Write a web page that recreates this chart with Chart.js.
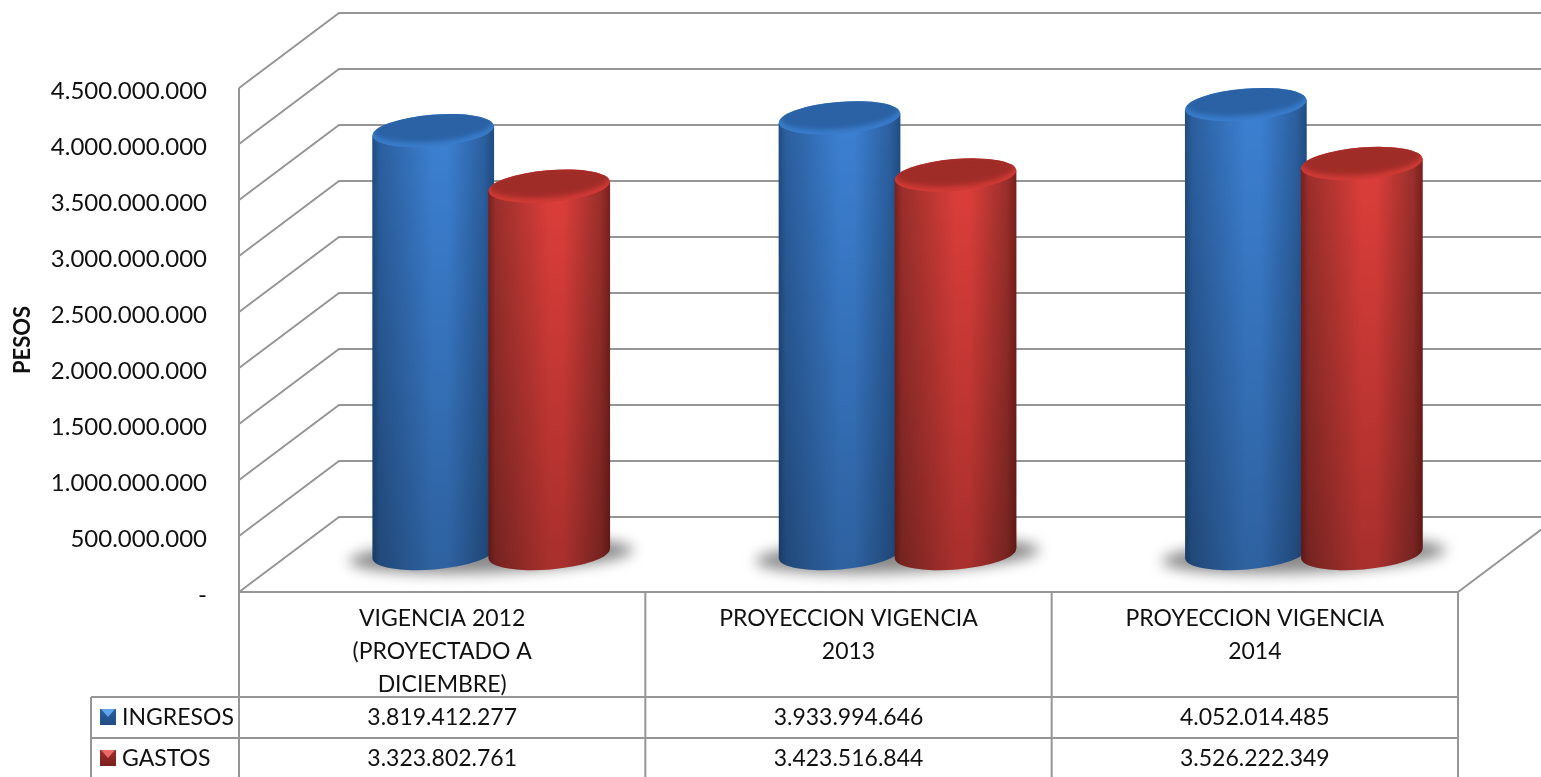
<!DOCTYPE html>
<html>
<head>
<meta charset="utf-8">
<title>Ingresos y gastos</title>
<script src="https://cdn.jsdelivr.net/npm/chart.js@4"></script>
<style>
  html, body { margin: 0; background: #fff; overflow: hidden; }
  canvas { display: block; }
</style>
</head>
<body>
<canvas id="chart" width="1541" height="777"></canvas>
<script>
// datos
const categories = [
  ['VIGENCIA 2012', '(PROYECTADO A', 'DICIEMBRE)'],
  ['PROYECCION VIGENCIA', '2013'],
  ['PROYECCION VIGENCIA', '2014']
];
const ingresos = [3819412277, 3933994646, 4052014485];
const gastos = [3323802761, 3423516844, 3526222349];

const FONT = 'Lato, "Open Sans", sans-serif';
const GRID = '#969696';
// desplazamiento de la pared del fondo (falso 3D)
const DEPTH_X = 100, DEPTH_Y = 75;

const BLUE = { dark: '#1f4c82', edge: '#2b5f9f', mid: '#3c80d2', top: '#2a62a5', rim: '#3a7dcc', tri: '#5fa4ec' };
const RED = { dark: '#7a1f1c', edge: '#9a2f2b', mid: '#dc3e3a', top: '#a02c28', rim: '#d23a36', tri: '#ec6a66' };

const fmt = v => String(v).replace(/\B(?=(\d{3})+(?!\d))/g, '.');

function line(ctx, pts) {
  ctx.beginPath();
  pts.forEach((p, i) => i ? ctx.lineTo(p[0], p[1]) : ctx.moveTo(p[0], p[1]));
  ctx.stroke();
}

// paredes y piso
const wallsPlugin = {
  id: 'walls',
  beforeDatasetsDraw(chart) {
    const { ctx, chartArea: a, scales: { y } } = chart;
    ctx.save();
    ctx.strokeStyle = GRID;
    ctx.lineWidth = 2;
    y.ticks.forEach(t => {
      const py = y.getPixelForValue(t.value);
      line(ctx, [[a.left, py], [a.left + DEPTH_X, py - DEPTH_Y], [chart.width, py - DEPTH_Y]]);
    });
    line(ctx, [[a.left, a.top], [a.left, chart.height]]);
    line(ctx, [[a.left, a.bottom], [a.right, a.bottom]]);
    line(ctx, [[a.right, a.bottom], [a.right + DEPTH_X, a.bottom - DEPTH_Y]]);
    ctx.restore();
  }
};

function drawCylinder(ctx, bar, pal) {
  const rx = bar.width / 2, ry = 16, rot = -4.7 * Math.PI / 180;
  const cx = bar.x + DEPTH_X / 2 - 1;
  const topY = bar.y - DEPTH_Y / 2 + 4;
  const baseY = bar.base - DEPTH_Y / 2 - 1;
  const dy = rx * Math.sin(rot);

  // cuerpo
  ctx.save();
  ctx.beginPath();
  ctx.moveTo(cx - rx, topY - dy);
  ctx.lineTo(cx + rx, topY + dy);
  ctx.lineTo(cx + rx, baseY + dy);
  ctx.ellipse(cx, baseY, rx, ry, rot, 0, Math.PI);
  ctx.closePath();
  ctx.clip();
  const g = ctx.createLinearGradient(cx - rx, 0, cx + rx, 0);
  g.addColorStop(0, pal.dark);
  g.addColorStop(0.06, pal.edge);
  g.addColorStop(0.5, pal.mid);
  g.addColorStop(0.62, pal.mid);
  g.addColorStop(0.92, pal.edge);
  g.addColorStop(1, pal.dark);
  ctx.fillStyle = g;
  ctx.fillRect(cx - rx - 2, topY - 30, rx * 2 + 4, baseY - topY + 60);
  const v = ctx.createLinearGradient(0, topY, 0, baseY + ry);
  v.addColorStop(0, 'rgba(0,0,0,0)');
  v.addColorStop(1, 'rgba(0,0,0,0.24)');
  ctx.fillStyle = v;
  ctx.fillRect(cx - rx - 2, topY - 30, rx * 2 + 4, baseY - topY + 60);
  ctx.restore();

  // tapa
  ctx.fillStyle = pal.rim;
  ctx.beginPath();
  ctx.ellipse(cx, topY, rx, ry, rot, 0, Math.PI * 2);
  ctx.fill();
  ctx.save();
  ctx.beginPath();
  ctx.ellipse(cx, topY, rx, ry, rot, 0, Math.PI * 2);
  ctx.clip();
  ctx.filter = 'blur(2.5px)';
  ctx.fillStyle = pal.top;
  ctx.beginPath();
  ctx.ellipse(cx, topY - 4, rx - 1, ry - 1, rot, 0, Math.PI * 2);
  ctx.fill();
  ctx.restore();
}

// cilindros dibujados sobre los elementos de barra del chart
const cylinderPlugin = {
  id: 'cylinders',
  afterDatasetsDraw(chart) {
    const ctx = chart.ctx;
    const blue = chart.getDatasetMeta(0).data;
    const red = chart.getDatasetMeta(1).data;
    blue.forEach((b, i) => {
      const r = red[i];
      const baseY = b.base - DEPTH_Y / 2;
      ctx.save();
      ctx.filter = 'blur(7px)';
      ctx.fillStyle = '#8a8a8a';
      ctx.beginPath();
      ctx.ellipse((b.x + r.x) / 2 + DEPTH_X / 2 - 1, baseY + 1, 142, 17, -0.04, 0, Math.PI * 2);
      ctx.fill();
      ctx.restore();
      drawCylinder(ctx, b, BLUE);
      drawCylinder(ctx, r, RED);
    });
  }
};

// tabla de datos bajo el eje
const tablePlugin = {
  id: 'table',
  afterDraw(chart) {
    const { ctx, chartArea: a, scales: { x } } = chart;
    const xs = [a.left];
    categories.forEach((c, i) => xs.push(x.getPixelForTick(i) + (a.right - a.left) / categories.length / 2));
    const left = 91, r0 = 697, r1 = 738;
    ctx.save();
    ctx.strokeStyle = GRID;
    ctx.lineWidth = 2;
    xs.slice(1).forEach(px => line(ctx, [[px, a.bottom], [px, chart.height]]));
    line(ctx, [[left, r0], [a.right, r0]]);
    line(ctx, [[left, r1], [a.right, r1]]);
    line(ctx, [[left, r0], [left, chart.height]]);

    ctx.font = '23px ' + FONT;
    ctx.textBaseline = 'middle';
    const rows = [['INGRESOS', ingresos, BLUE, r0], ['GASTOS', gastos, RED, r1]];
    rows.forEach(([name, vals, pal, ry]) => {
      const my = ry + 20;
      const g = ctx.createLinearGradient(0, my - 8, 0, my + 8);
      g.addColorStop(0, pal.edge);
      g.addColorStop(1, pal.dark);
      ctx.fillStyle = g;
      ctx.fillRect(100, my - 8, 16, 16);
      // brillo triangular de la muestra
      ctx.fillStyle = pal.tri;
      ctx.beginPath();
      ctx.moveTo(101, my - 8);
      ctx.lineTo(115, my - 8);
      ctx.lineTo(108, my);
      ctx.closePath();
      ctx.fill();
      ctx.fillStyle = '#111';
      ctx.textAlign = 'left';
      ctx.fillText(name, 122, my + 1);
      ctx.textAlign = 'center';
      vals.forEach((v, i) => ctx.fillText(fmt(v), x.getPixelForTick(i), my + 1));
    });
    ctx.restore();
  }
};

new Chart(document.getElementById('chart').getContext('2d'), {
  type: 'bar',
  data: {
    labels: categories,
    datasets: [
      { label: 'INGRESOS', data: ingresos, backgroundColor: 'rgba(0,0,0,0)' },
      { label: 'GASTOS', data: gastos, backgroundColor: 'rgba(0,0,0,0)' }
    ]
  },
  options: {
    responsive: false,
    animation: false,
    categoryPercentage: 0.571,
    barPercentage: 1.05,
    layout: { padding: { top: 88, right: 83, left: 0, bottom: 0 } },
    plugins: { legend: { display: false }, tooltip: { enabled: false } },
    scales: {
      x: {
        afterFit(s) { s.height = 185; },
        grid: { display: false },
        border: { display: false },
        ticks: {
          autoSkip: false,
          maxRotation: 0,
          padding: 2,
          color: '#111',
          font: { family: FONT, size: 23, lineHeight: '33px' }
        }
      },
      y: {
        min: 0,
        max: 4500000000,
        afterFit(s) { s.width = 239; },
        grid: { display: false },
        border: { display: false },
        title: {
          display: true,
          text: 'PESOS',
          color: '#111',
          padding: { top: 10, bottom: 0 },
          font: { family: FONT, size: 22, weight: 'bold' }
        },
        ticks: {
          stepSize: 500000000,
          padding: 24,
          labelOffset: 3,
          color: '#111',
          font: { family: FONT, size: 24 },
          callback: v => v === 0 ? '-' : fmt(v)
        }
      }
    }
  },
  plugins: [wallsPlugin, cylinderPlugin, tablePlugin]
});
</script>
</body>
</html>
